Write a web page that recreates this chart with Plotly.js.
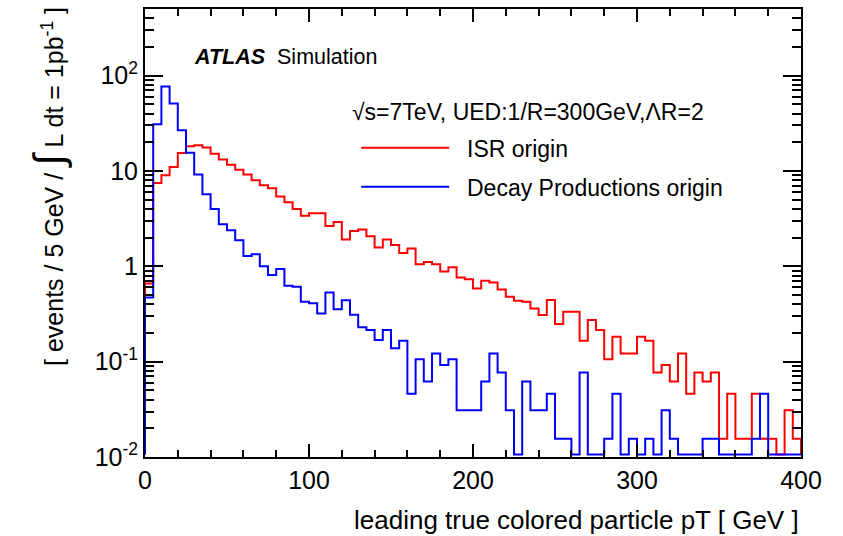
<!DOCTYPE html>
<html>
<head>
<meta charset="utf-8">
<script src="https://cdn.plot.ly/plotly-3.0.1.min.js"></script>
<style>
html, body { margin: 0; padding: 0; background: #ffffff; }
#chart { width: 843px; height: 536px; }
</style>
</head>
<body>
<div id="chart"></div>
<script>
// Bin low edges of the 5 GeV histogram (GeV)
const binLowEdges = [
  0, 5, 10, 15, 20, 25, 30, 35, 40, 45,
  50, 55, 60, 65, 70, 75, 80, 85, 90, 95,
  100, 105, 110, 115, 120, 125, 130, 135, 140, 145,
  150, 155, 160, 165, 170, 175, 180, 185, 190, 195,
  200, 205, 210, 215, 220, 225, 230, 235, 240, 245,
  250, 255, 260, 265, 270, 275, 280, 285, 290, 295,
  300, 305, 310, 315, 320, 325, 330, 335, 340, 345,
  350, 355, 360, 365, 370, 375, 380, 385, 390, 395
];
const xUpperEdge = 400;

// events / 5 GeV, ISR origin
const isrOrigin = [
  0.66, 7.5, 9.0, 11.0, 15.4, 18.2, 18.6, 17.6, 15.2, 13.2,
  11.6, 10.3, 9.2, 8.0, 7.1, 6.6, 5.4, 4.7, 4.0, 3.4,
  3.6, 3.6, 2.64, 2.92, 1.91, 2.35, 2.43, 2.07, 1.58, 1.91,
  1.67, 1.38, 1.54, 1.05, 1.11, 1.05, 0.88, 0.975, 0.765, 0.73,
  0.587, 0.705, 0.677, 0.573, 0.48, 0.436, 0.425, 0.362, 0.308, 0.443,
  0.248, 0.334, 0.334, 0.166, 0.274, 0.215, 0.106, 0.183, 0.122, 0.122,
  0.183, 0.166, 0.077, 0.092, 0.062, 0.122, 0.046, 0.077, 0.062, 0.077,
  0.0155, 0.046, 0.0155, 0.0155, 0.046, 0.0155, 0.0155, 0, 0.031, 0.0155
];

// events / 5 GeV, decay products origin
const decayOrigin = [
  0.47, 31, 77, 51, 26.7, 15.5, 9.2, 5.7, 4.0, 2.77,
  2.39, 1.88, 1.28, 1.34, 1.0, 0.81, 0.94, 0.625, 0.61, 0.425,
  0.41, 0.32, 0.53, 0.354, 0.44, 0.31, 0.23, 0.215, 0.169, 0.215,
  0.138, 0.166, 0.046, 0.106, 0.062, 0.122, 0.092, 0.106, 0.031, 0.031,
  0.031, 0.062, 0.122, 0.077, 0.031, 0, 0.062, 0.031, 0.031, 0.046,
  0.0155, 0.0155, 0, 0.077, 0, 0, 0.0155, 0.046, 0, 0.0155,
  0, 0.0155, 0, 0.031, 0.0155, 0, 0, 0, 0.0155, 0.0155,
  0, 0, 0, 0, 0.0155, 0.046, 0, 0, 0, 0
];

const seriesNames = ['ISR origin', 'Decay Productions origin'];
const seriesColors = ['#ff0000', '#0000ff'];

const xTickVals = [0, 100, 200, 300, 400];
const xMinorTickVals = [20, 40, 60, 80, 120, 140, 160, 180, 220, 240, 260, 280, 320, 340, 360, 380];
const yTickVals = [0.01, 0.1, 1, 10, 100];
const yTickText = ['10<sup>-2</sup>', '10<sup>-1</sup>', '1', '10', '10<sup>2</sup>'];

// minor log ticks 2..9 in each decade up to the top of the frame
const yMinorTickVals = [];
[0.01, 0.1, 1, 10, 100].forEach(function (d) {
  for (let k = 2; k <= 9; k++) {
    const v = d * k;
    if (v <= 500) yMinorTickVals.push(v);
  }
});

// empty bins are drawn on the frame bottom, as ROOT does
const yFloor = 0.0106;

function stepTrace(values, name, color, group) {
  const xs = [binLowEdges[0]];
  const ys = [yFloor];
  values.forEach(function (v, i) {
    xs.push(binLowEdges[i]);
    ys.push(v > 0 ? v : yFloor);
  });
  const last = values[values.length - 1];
  xs.push(xUpperEdge); ys.push(last > 0 ? last : yFloor);
  xs.push(xUpperEdge); ys.push(yFloor);
  return {
    type: 'scatter', mode: 'lines', name: '\u00a0\u00a0' + name, legendgroup: group,
    x: xs, y: ys,
    line: { shape: 'hv', color: color, width: 2 },
    hoverinfo: 'skip'
  };
}

const data = [
  stepTrace(isrOrigin, seriesNames[0], seriesColors[0], 'g1'),
  stepTrace(decayOrigin, seriesNames[1], seriesColors[1], 'g2')
];

const FONT = 'Liberation Sans, Arial, Helvetica, sans-serif';

const layout = {
  width: 843, height: 536,
  margin: { l: 145, r: 42, t: 9, b: 79 },
  paper_bgcolor: '#ffffff', plot_bgcolor: '#ffffff',
  font: { family: FONT, color: '#000000' },
  showlegend: true,
  legend: {
    x: 0.322, y: 0.738, xanchor: 'left', yanchor: 'top',
    bgcolor: 'rgba(0,0,0,0)', borderwidth: 0,
    font: { family: FONT, size: 23, color: '#000000' },
    itemwidth: 88, tracegroupgap: 6,
    traceorder: 'grouped'
  },
  xaxis: {
    range: [0, 400], showgrid: false, zeroline: false,
    showline: true, linecolor: '#000000', linewidth: 2, mirror: 'allticks',
    ticks: 'inside', ticklen: 13, tickwidth: 2, tickcolor: '#000000',
    tickmode: 'array', tickvals: xTickVals,
    tickfont: { family: FONT, size: 25, color: '#000000' },
    minor: { tickmode: 'array', tickvals: xMinorTickVals, ticks: 'inside', ticklen: 7, tickwidth: 2, tickcolor: '#000000', showgrid: false }
  },
  yaxis: {
    type: 'log', range: [-2, Math.log10(500)], showgrid: false, zeroline: false,
    showline: true, linecolor: '#000000', linewidth: 2, mirror: 'allticks',
    ticks: 'inside', ticklen: 18, tickwidth: 2, tickcolor: '#000000',
    tickmode: 'array', tickvals: yTickVals, ticktext: yTickText,
    tickfont: { family: FONT, size: 25, color: '#000000' },
    minor: { tickmode: 'array', tickvals: yMinorTickVals, ticks: 'inside', ticklen: 9, tickwidth: 2, tickcolor: '#000000', showgrid: false }
  },
  annotations: [
    {
      xref: 'paper', yref: 'paper', x: 0.071, y: 0.893, xanchor: 'left', yanchor: 'middle',
      text: '<b><i>ATLAS</i></b>\u00a0 Simulation', showarrow: false,
      font: { family: FONT, size: 21.5, color: '#000000' }
    },
    {
      xref: 'paper', yref: 'paper', x: 0.3125, y: 0.770, xanchor: 'left', yanchor: 'middle',
      text: '\u221As=7TeV, UED:1/R=300GeV,\u039BR=2', showarrow: false,
      font: { family: FONT, size: 23, color: '#000000' }
    },
    {
      xref: 'paper', yref: 'paper', x: 1, y: -0.141, xanchor: 'right', yanchor: 'middle',
      text: 'leading true colored particle pT [ GeV ]', showarrow: false,
      font: { family: FONT, size: 26, color: '#000000' }
    },
    {
      xref: 'paper', yref: 'paper', x: -0.147, y: 0.604, xanchor: 'center', yanchor: 'middle',
      textangle: -90,
      text: '[ events / 5 GeV / <span style="font-size:42px">\u222B</span> L dt = 1pb<sup>-1</sup> ]',
      showarrow: false,
      font: { family: FONT, size: 25, color: '#000000' }
    }
  ]
};

Plotly.newPlot('chart', data, layout, { displayModeBar: false, staticPlot: true });
</script>
</body>
</html>
